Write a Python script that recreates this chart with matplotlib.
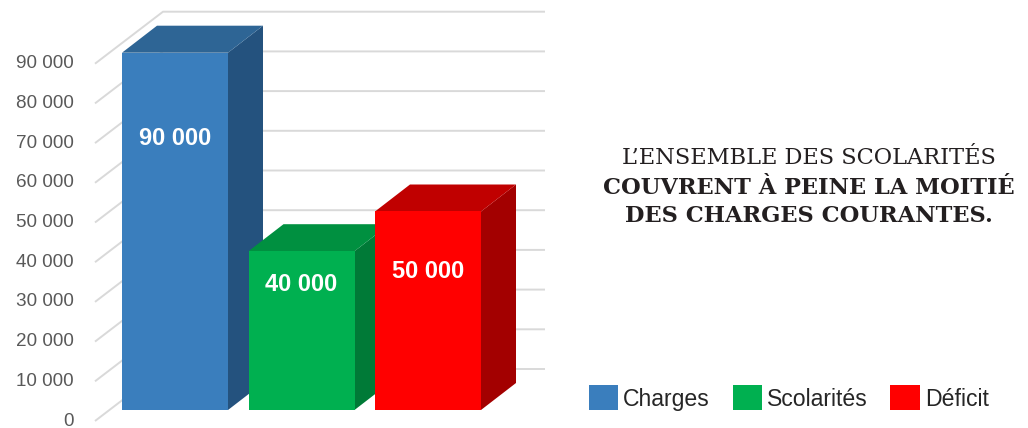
import numpy as np
import matplotlib
matplotlib.use("Agg")
from matplotlib import pyplot as plt
from matplotlib.patches import Polygon

# data
categories = ["Charges", "Scolarités", "Déficit"]
values = [90000, 40000, 50000]
value_labels = ["90 000", "40 000", "50 000"]
label_frac = [0.76, 0.79, 0.70]          # where the value label sits on each bar
ticks = list(range(0, 100000, 10000))
tick_labels = ["0" if t == 0 else f"{t // 1000} 000" for t in ticks]

front_cols = ["#3A7EBD", "#00B050", "#FF0000"]
top_cols = ["#2E6595", "#009040", "#C00000"]
side_cols = ["#24527E", "#007A37", "#A30000"]

W, H = 1028, 428
fig = plt.figure(figsize=(W / 100, H / 100), dpi=100)
ax = fig.add_axes([0, 0, 1, 1])
ax.set_axis_off()

# axes scale: bar index units horizontally, value units vertically
px_per_unit = 126.5
px_per_val = 39.7 / 10000
x0_px, y0_px = 175, 410
ax.set_xlim(-x0_px / px_per_unit, (W - x0_px) / px_per_unit)
ax.set_ylim(-(H - y0_px) / px_per_val, y0_px / px_per_val)

def dx(px):
    return px / px_per_unit

def dy(px):
    return px / px_per_val

# gridlines (front edge -> back wall -> right)
x_front, x_back, x_end = dx(95 - x0_px), dx(163 - x0_px), dx(545 - x0_px)
off_front, off_back = dy(11), dy(41)
for t, lab in zip(ticks, tick_labels):
    ax.plot([x_front, x_back, x_end], [t - off_front, t + off_back, t + off_back],
            color="#D9D9D9", lw=1.4, zorder=1, solid_capstyle="butt")
    ax.text(dx(74 - x0_px), t - off_front, lab, ha="right", va="center",
            fontsize=13.6, color="#595959", family="Liberation Sans")

# pseudo-3D bars
width = 106 / px_per_unit
ddx, ddy = dx(35), dy(27)
xs = np.arange(len(values))
for i, (v, cat) in enumerate(zip(values, categories)):
    left = xs[i] - width / 2
    right = left + width
    side = Polygon([(right, 0), (right + ddx, ddy), (right + ddx, v + ddy), (right, v)],
                   closed=True, fc=side_cols[i], ec="none", zorder=3 + i)
    top = Polygon([(left, v), (right, v), (right + ddx, v + ddy), (left + ddx, v + ddy)],
                  closed=True, fc=top_cols[i], ec="none", zorder=3 + i)
    ax.add_patch(side)
    ax.add_patch(top)
    ax.bar(xs[i], v, width=width, color=front_cols[i], label=cat, zorder=3 + i)
    ax.text(xs[i], v * label_frac[i], value_labels[i], ha="center", va="center",
            fontsize=17, fontweight="bold", color="white", family="Liberation Sans",
            zorder=10)

# side text
serif = dict(ha="center", va="center", fontsize=16.2, family="DejaVu Serif", color="#231F20")
fig.text(809 / W, 1 - 158 / H, "L’ENSEMBLE DES SCOLARITÉS", **serif)
fig.text(809 / W, 1 - 188 / H, "COUVRENT À PEINE LA MOITIÉ", fontweight="bold", **serif)
fig.text(809 / W, 1 - 216 / H, "DES CHARGES COURANTES.", fontweight="bold", **serif)

# legend
leg = ax.legend(loc="center left", bbox_to_anchor=(589 / W, 1 - 398 / H),
                bbox_transform=fig.transFigure, ncol=3, frameon=False,
                prop={"family": "Liberation Sans", "size": 16.6},
                handlelength=1.27, handleheight=1.27, handletextpad=0.22,
                columnspacing=0.98, borderpad=0, borderaxespad=0)
for t in leg.get_texts():
    t.set_color("#262626")

fig.savefig("out.png", dpi=100)
